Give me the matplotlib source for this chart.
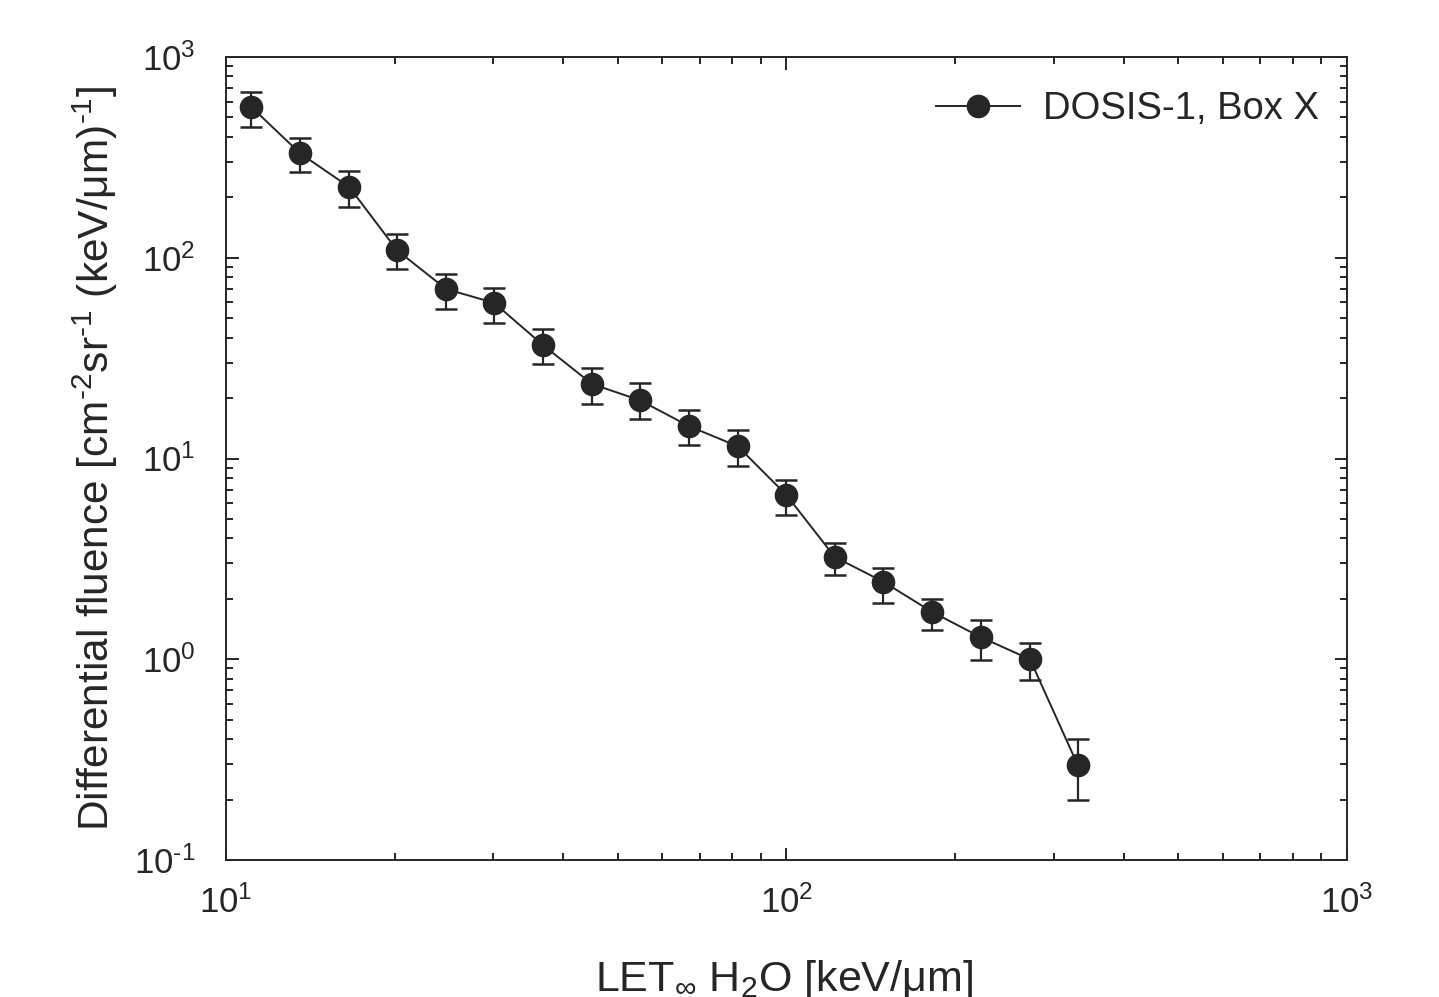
import matplotlib
matplotlib.use("Agg")
import matplotlib.pyplot as plt
import numpy as np
from matplotlib.ticker import LogLocator, FuncFormatter

plt.rcParams['font.family'] = ['Liberation Sans', 'DejaVu Sans']
plt.rcParams['mathtext.fontset'] = 'custom'
plt.rcParams['mathtext.rm'] = 'Liberation Sans'
plt.rcParams['mathtext.it'] = 'Liberation Sans'
plt.rcParams['mathtext.default'] = 'regular'

# Data
let_values = [11.1, 13.55, 16.6, 20.2, 24.7, 30.1, 36.8, 45.0, 54.8, 67.0, 81.9,
              100.0, 122.0, 149.0, 182.0, 222.0, 272.0, 331.0]
fluence = [564, 332, 225, 109, 69.9, 59.6, 36.7, 23.5, 19.5, 14.5, 11.5,
           6.58, 3.23, 2.43, 1.72, 1.29, 1.0, 0.297]
err_upper = [669, 395, 270, 131, 83, 70.7, 44.2, 28.2, 23.8, 17.4, 13.9,
             7.82, 3.79, 2.85, 2.0, 1.57, 1.2, 0.4]
err_lower = [448, 267, 179, 87.9, 55.6, 47.3, 29.6, 18.7, 15.7, 11.7, 9.18,
             5.23, 2.63, 1.91, 1.40, 0.99, 0.79, 0.2]
series_label = "DOSIS-1, Box X"

col = '#262626'
fig = plt.figure(figsize=(14.39, 9.97), dpi=100)
ax = fig.add_axes([0.157, 0.1374, 0.779, 0.8054])

x = np.array(let_values)
y = np.array(fluence)
yerr = np.array([y - np.array(err_lower), np.array(err_upper) - y])

ax.errorbar(x, y, yerr=yerr, fmt='none', ecolor=col, elinewidth=1.6,
            capsize=8, capthick=1.8, zorder=2)
ax.plot(x, y, '-', color=col, lw=1.4, marker='o', markersize=16,
        markerfacecolor=col, markeredgecolor=col, label=series_label, zorder=3)

ax.set_xscale('log')
ax.set_yscale('log')
ax.set_xlim(10, 1000)
ax.set_ylim(0.1, 1000)

def fmt(v, pos):
    e = int(round(np.log10(v)))
    return r'10$^{\mathrm{%s}}$' % (('\u2010' + str(-e)) if e < 0 else str(e))

ax.xaxis.set_major_locator(LogLocator(base=10, numticks=10))
ax.yaxis.set_major_locator(LogLocator(base=10, numticks=10))
ax.xaxis.set_minor_locator(LogLocator(base=10, subs=np.arange(2, 10), numticks=20))
ax.yaxis.set_minor_locator(LogLocator(base=10, subs=np.arange(2, 10), numticks=20))
ax.xaxis.set_major_formatter(FuncFormatter(fmt))
ax.yaxis.set_major_formatter(FuncFormatter(fmt))
ax.xaxis.set_minor_formatter(FuncFormatter(lambda v, p: ''))
ax.yaxis.set_minor_formatter(FuncFormatter(lambda v, p: ''))

ax.tick_params(which='both', direction='in', top=True, right=True, color=col,
               labelcolor=col, width=1.4)
ax.tick_params(which='major', length=9, labelsize=25)
ax.tick_params(which='minor', length=5)
ax.tick_params(axis='x', which='major', pad=18)
ax.tick_params(axis='y', which='major', pad=22)

for s in ax.spines.values():
    s.set_color(col)
    s.set_linewidth(1.4)

ax.set_ylabel('Differential fluence [cm$^{\u20102}$sr$^{\u20101}$ (keV/μm)$^{\u20101}$]',
              fontsize=30.5, color=col, labelpad=10)
fig.text(0.545, 0.006, r'LET$_{\infty}$ H$_2$O [keV/μm]', fontsize=31,
         color=col, ha='center', va='baseline')

leg = ax.legend(loc='upper right', frameon=False, fontsize=27.5, handlelength=2.2,
                bbox_to_anchor=(1.006, 1.0), handletextpad=0.6)
for t in leg.get_texts():
    t.set_color(col)

fig.savefig('out.png', dpi=100, facecolor='white')
